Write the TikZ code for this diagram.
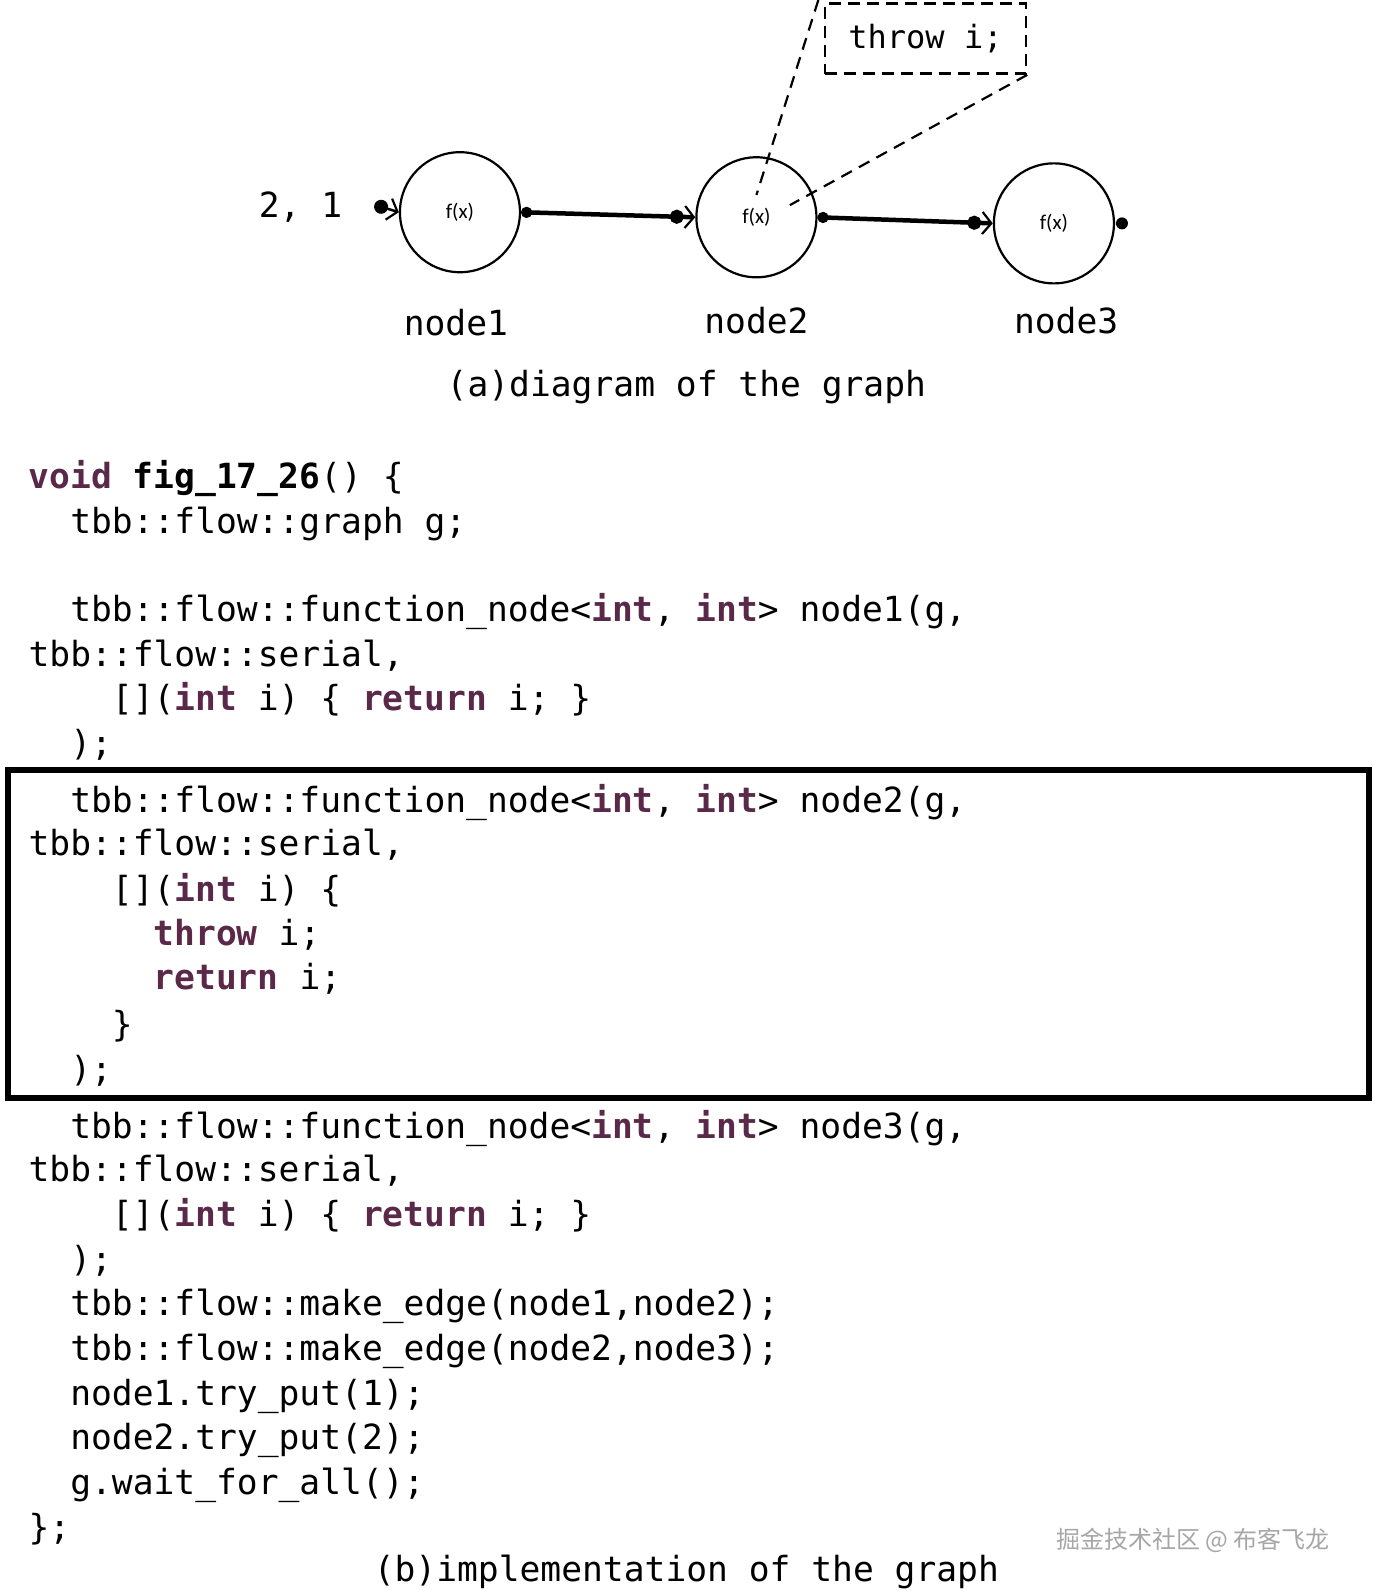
\documentclass[tikz,border=0pt]{standalone}
\usepackage{fontspec}
\setmonofont{DejaVu Sans Mono}
\newfontfamily\cjk{Noto Sans CJK SC}
\newfontfamily\calib{Carlito}
\usetikzlibrary{arrows.meta}
\definecolor{kwc}{HTML}{5A2848}
\newcommand{\kw}[1]{{\bfseries\color{kwc}#1}}
\begin{document}
\begin{tikzpicture}[x=1.015pt,y=-1.015pt,
  code/.style={anchor=base west,inner sep=0pt,font=\ttfamily\fontsize{34.6}{40}\selectfont},
  fn/.style={circle,draw,line width=2.2pt,minimum size=120pt,font=\calib\fontsize{21}{24}\selectfont},
  lbl/.style={font=\ttfamily\fontsize{34.6}{40}\selectfont,inner sep=0pt},
  edge/.style={line width=4.5pt,{Circle[length=11pt]}-{Circle[length=14pt] Straight Barb[length=9pt,width=22pt,line width=2.2pt]}}]
\useasboundingbox (0,0) rectangle (1352,1566);
% diagram
\node[fn] (n1) at (453,209) {f(x)};
\node[fn] (n2) at (745,214) {f(x)};
\node[fn] (n3) at (1038,220) {f(x)};
\node[lbl] (l1) at (449,318) {node1};
\node[lbl] (l2) at (745,316) {node2};
\node[lbl] (l3) at (1050,316) {node3};
\node[lbl] (cap) at (676,381) {(a)diagram of the graph};
\node[lbl] (inp) at (296,204) {2, 1};
\coordinate (ins) at (370,202);
\draw[line width=2.5pt,-{Circle[length=14pt] Straight Barb[length=9pt,width=22pt,line width=2.2pt]}] (ins) -- (n1.west);
\draw[edge] (n1.east) -- (n2.west);
\draw[edge] (n2.east) -- (n3.west);
\coordinate (o3) at (1105,220);
\fill (o3) circle (6pt);
\node[draw,dashed,line width=2.5pt,dash pattern=on 12pt off 7pt,minimum width=201pt,minimum height=70pt,font=\ttfamily\fontsize{32}{36}\selectfont] (tb) at (911.5,38) {throw i;};
\coordinate (d1) at (806,0);
\coordinate (d2) at (745,192);
\coordinate (d3) at (778,202);
\draw[line width=2.2pt,dash pattern=on 12pt off 8pt] (d1) -- (d2);
\draw[line width=2.2pt,dash pattern=on 12pt off 8pt] (tb.south east) -- (d3);
% code box
\draw[line width=6pt] (8,758) rectangle (1348,1081);
% code
\node[code] (c1) at (28,481) {\kw{void} \textbf{fig\_17\_26}() \{};
\node[code] (c2) at (28,525) {\ \ tbb::flow::graph g;};
\node[code] (c3) at (28,612) {\ \ tbb::flow::function\_node<\kw{int}, \kw{int}> node1(g,};
\node[code] (c4) at (28,656) {tbb::flow::serial,};
\node[code] (c5) at (28,700) {\ \ \ \ [](\kw{int} i) \{ \kw{return} i; \}};
\node[code] (c6) at (28,744) {\ \ );};
\node[code] (c7) at (28,800) {\ \ tbb::flow::function\_node<\kw{int}, \kw{int}> node2(g,};
\node[code] (c8) at (28,843) {tbb::flow::serial,};
\node[code] (c9) at (28,888) {\ \ \ \ [](\kw{int} i) \{};
\node[code] (c10) at (28,931) {\ \ \ \ \ \ \kw{throw} i;};
\node[code] (c11) at (28,975) {\ \ \ \ \ \ \kw{return} i;};
\node[code] (c12) at (28,1021) {\ \ \ \ \}};
\node[code] (c13) at (28,1065) {\ \ );};
\node[code] (c14) at (28,1121) {\ \ tbb::flow::function\_node<\kw{int}, \kw{int}> node3(g,};
\node[code] (c15) at (28,1164) {tbb::flow::serial,};
\node[code] (c16) at (28,1208) {\ \ \ \ [](\kw{int} i) \{ \kw{return} i; \}};
\node[code] (c17) at (28,1252) {\ \ );};
\node[code] (c18) at (28,1296) {\ \ tbb::flow::make\_edge(node1,node2);};
\node[code] (c19) at (28,1340) {\ \ tbb::flow::make\_edge(node2,node3);};
\node[code] (c20) at (28,1384) {\ \ node1.try\_put(1);};
\node[code] (c21) at (28,1428) {\ \ node2.try\_put(2);};
\node[code] (c22) at (28,1472) {\ \ g.wait\_for\_all();};
\node[code] (c23) at (28,1516) {\};};
\node[lbl] (capb) at (676,1548) {(b)implementation of the graph};
\node[font=\cjk\fontsize{24}{28}\selectfont,text=gray!70,inner sep=0pt] (wm) at (1175,1517) {掘金技术社区 @ 布客飞龙};
\end{tikzpicture}
\end{document}
